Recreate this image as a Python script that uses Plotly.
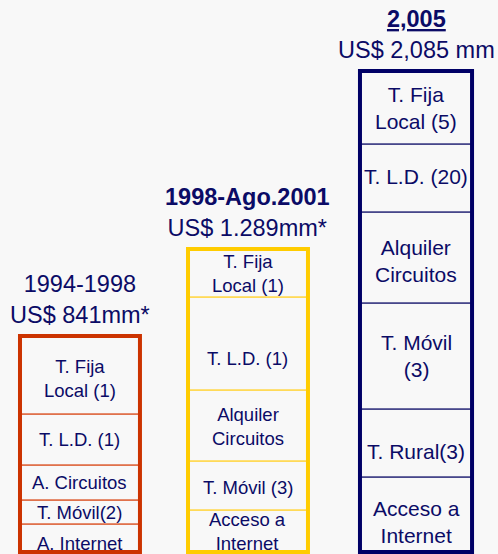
import plotly.graph_objects as go

# ==============================================================================
# DATA (segment heights, bottom to top)
# ==============================================================================

periods = ['1994-1998', '1998-Ago.2001', '2,005']
period_titles = ['1994-1998', '<b>1998-Ago.2001</b>', '<b><u>2,005</u></b>']
amounts = ['US$ 841mm*', 'US$ 1.289mm*', 'US$ 2,085 mm']

heights_1 = [28, 24, 35, 51, 78]
labels_1 = ['A. Internet', 'T. Móvil(2)', 'A. Circuitos', 'T. L.D. (1)',
            'T. Fija<br>Local (1)']

heights_2 = [42, 49, 71, 93, 48]
labels_2 = ['Acceso a<br>Internet', 'T. Móvil (3)', 'Alquiler<br>Circuitos',
            'T. L.D. (1)', 'T. Fija<br>Local (1)']

heights_3 = [75, 68, 106, 91, 68, 73]
labels_3 = ['Acceso a<br>Internet', 'T. Rural(3)', 'T. Móvil<br>(3)',
            'Alquiler<br>Circuitos', 'T. L.D. (20)', 'T. Fija<br>Local (5)']

# ==============================================================================
# STYLE
# ==============================================================================

BG = '#f8f8f8'
TEXT = '#0b0b66'
FONT = 'Liberation Sans, Arial, sans-serif'

border_colors = ['#cc3300', '#ffcc00', '#000066']
inner_colors = ['#de6a42', '#ffd84d', '#3c3c84']
bar_widths = [0.714, 0.714, 0.667]
label_sizes = [18.5, 18.5, 21]

# small vertical nudges (px) so labels sit where the original text boxes were
label_nudges = [
    [-5, 0, 0, 0, -3],
    [0, -2, -1, -15, 0],
    [-7, -8, 0, -3, 2, 0],
]

columns = [(heights_1, labels_1), (heights_2, labels_2), (heights_3, labels_3)]

fig = go.Figure()
annotations = []

for i, (heights, labels) in enumerate(columns):
    bases = [sum(heights[:k]) for k in range(len(heights))]
    total = sum(heights)

    # segments with thin separators
    fig.add_trace(go.Bar(
        x=[periods[i]] * len(heights), y=heights, base=bases,
        width=bar_widths[i],
        marker=dict(color=BG, line=dict(color=inner_colors[i], width=1.5)),
        hoverinfo='skip', showlegend=False
    ))
    # thick outer box
    fig.add_trace(go.Bar(
        x=[periods[i]], y=[total], base=[0],
        width=bar_widths[i],
        marker=dict(color='rgba(0,0,0,0)', line=dict(color=border_colors[i], width=4)),
        hoverinfo='skip', showlegend=False
    ))

    for b, h, lab, dy in zip(bases, heights, labels, label_nudges[i]):
        annotations.append(dict(
            x=periods[i], y=b + h / 2, yshift=dy, text=lab, showarrow=False,
            xref='x', yref='y',
            font=dict(family=FONT, size=label_sizes[i], color=TEXT)
        ))

    annotations.append(dict(
        x=periods[i], y=total, yanchor='bottom', yshift=6,
        text=f'{period_titles[i]}<br>{amounts[i]}', showarrow=False,
        xref='x', yref='y',
        font=dict(family=FONT, size=23.5, color=TEXT)
    ))

fig.update_layout(
    width=498, height=554,
    margin=dict(l=0, r=0, t=0, b=0),
    paper_bgcolor=BG, plot_bgcolor=BG,
    barmode='overlay',
    hovermode=False,
    annotations=annotations,
    xaxis=dict(type='category', range=[-0.476, 2.488], visible=False),
    yaxis=dict(range=[-2, 552], visible=False),
)

# drop the default page margin so the figure fills the window
fig.write_html(
    "out.html",
    config={'displayModeBar': False},
    post_script="document.body.style.margin='0';"
                "document.body.style.overflow='hidden';"
                "document.body.style.background='" + BG + "';"
)
